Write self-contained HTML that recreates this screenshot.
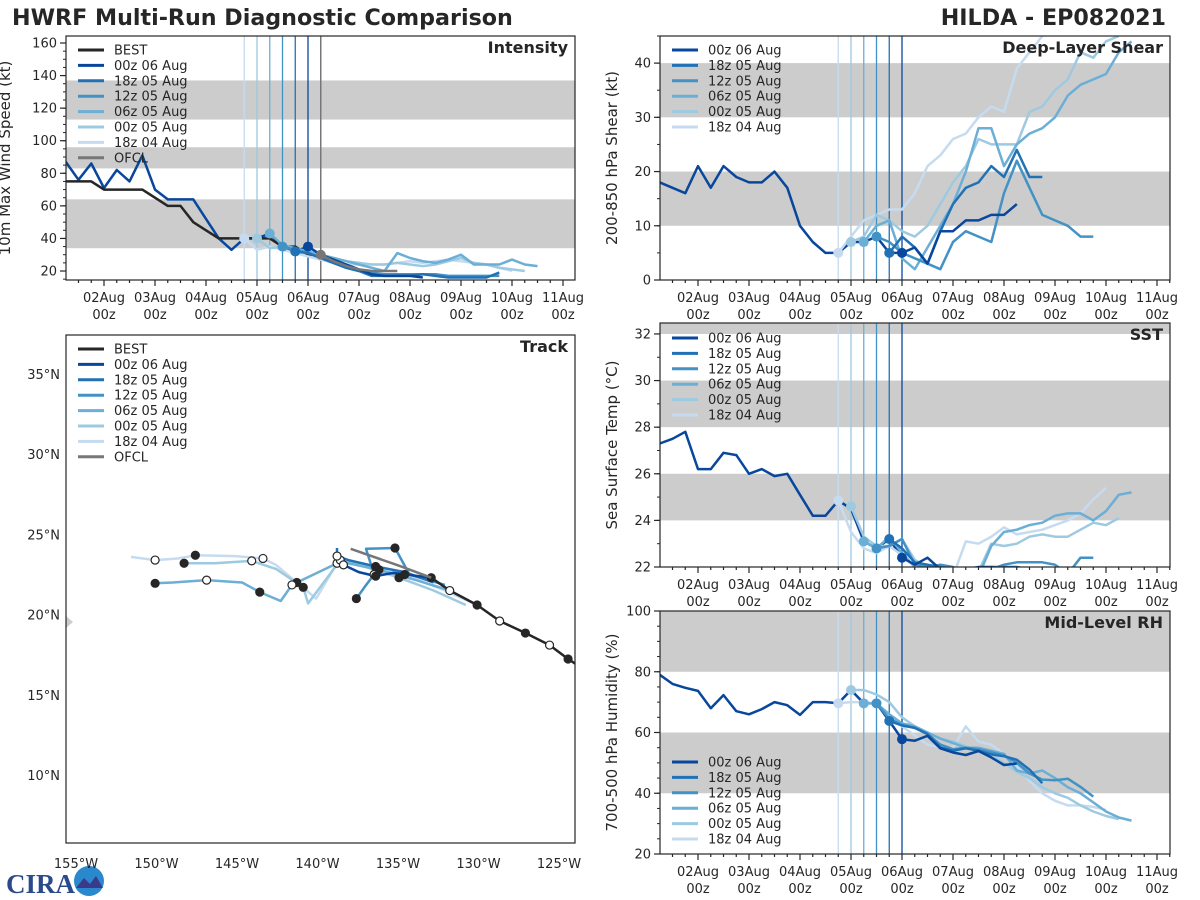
<!DOCTYPE html>
<html><head><meta charset="utf-8"><style>
html,body{margin:0;padding:0;background:#fff}
svg{display:block;font-family:"DejaVu Sans","Liberation Sans",sans-serif}
</style></head><body>
<svg id="s" width="1200" height="900" viewBox="0 0 1200 900" xmlns="http://www.w3.org/2000/svg">
<text x="12" y="25" font-size="22.2" font-weight="bold" fill="#262626">HWRF Multi-Run Diagnostic Comparison</text>
<text x="1166" y="25" font-size="22.2" font-weight="bold" fill="#262626" text-anchor="end">HILDA - EP082021</text>
<g>
<text x="6" y="893" font-size="27" font-weight="bold" fill="#2a4a8a" font-family="Liberation Serif,serif">CIRA</text>
<circle cx="89" cy="881" r="15" fill="#2a88cc"/>
<path d="M76 888 L84 878 L90 884 L96 876 L103 888 Z" fill="#3a3a8a"/>
</g>
<g id="root"></g>
</svg>
<script>
// ---------- DATA ----------
const runLabels = ["00z 06 Aug","18z 05 Aug","12z 05 Aug","06z 05 Aug","00z 05 Aug","18z 04 Aug"];
const runInitHours = [96,90,84,78,72,66];
const histStart = -18;
// intensity (kt)
const intHist = [87,76,86,71,82,75,91,70,64,64,64,52,40,33,40,40,43,35,32,35];
const intBest = [75,75,75,70,70,70,70,65,60,60,50,45,40,40,40,40,40,35,35,30,30];
const intOfcl = [30,26,23,21,20,20,20];
const intOfclStart = 102;
const int00z06 = [35,30,27,24,21,18,17,17,17,16];
const int18z05 = [32,31,28,25,22,20,17,17,17,17,18,17,16,16,16,16,19];
const int12z05 = [35,33,31,28,25,22,20,19,18,18,18,18,18,17,17,17,17,17];
const int06z05 = [43,36,34,32,30,28,26,24,22,20,31,28,26,25,27,30,24,24,24,27,24,23];
const int00z05 = [40,34,35,33,31,30,28,26,25,24,24,25,24,23,24,26,28,25,24,22,21,20];
const int18z04 = [40,33,35,33,31,29,27,25,24,24,24,24,25,26,25,26,27,26,25,24,22,20];
// shear (kt)
const shrHist = [18,17,16,21,17,21,19,18,18,20,17,10,7,5,5,7,7,8,5,5];
const shr00z06 = [5,6,3,9,9,11,11,12,12,14];
const shr18z05 = [5,8,6,3,9,14,17,18,21,19,24,19,19];
const shr12z05 = [8,7,5,4,3,2,7,9,8,7,16,22,17,12,11,10,8,8];
const shr06z05 = [7,10,11,4,2,6,10,14,20,28,28,21,25,27,28,30,34,36,37,38,42,44];
const shr00z05 = [7,8,12,11,9,8,10,14,18,21,26,25,25,25,31,32,35,37,42,41,44,45];
const shr18z04 = [5,8,11,12,13,13,16,21,23,26,27,30,32,31,39,42,45,47];
// SST (C)
const sstHist = [27.3,27.5,27.8,26.2,26.2,26.9,26.8,26.0,26.2,25.9,26.0,25.1,24.2,24.2,24.85,24.5,23.1,22.8,23.2,22.4];
const sst00z06 = [22.4,22.1,22.4,21.9,21.8,21.9,22.0,22.0,21.9,21.8];
const sst18z05 = [23.2,22.8,22.2,22.1,22.0,21.9,21.8,21.8,22.0,22.0,22.0,21.9];
const sst12z05 = [22.8,22.9,23.2,22.1,22.0,22.1,22.0,21.8,21.6,21.9,22.1,22.2,22.2,22.2,22.1,21.7,22.4,22.4];
const sst06z05 = [23.1,22.8,23.3,22.6,22.0,21.8,21.9,21.8,21.7,21.6,22.9,23.5,23.6,23.8,23.9,24.2,24.3,24.3,24.0,24.4,25.1,25.2];
const sst00z05 = [24.6,23.3,22.9,22.9,23.2,22.3,22.0,21.9,21.8,21.8,21.8,23.0,22.9,23.0,23.3,23.4,23.3,23.3,23.6,23.9,23.8,24.1];
const sst18z04 = [24.85,23.5,22.8,22.6,22.9,22.5,22.0,21.8,21.7,21.6,23.1,23.0,23.3,23.7,23.4,23.5,23.6,23.8,24.0,24.3,24.9,25.4];
// RH (%)
const rhHist = [79,76,74.7,73.7,68,72.3,67,66,67.7,70,69,65.8,70,70,69.6,74,69.6,69.6,63.8,57.8];
const rh00z06 = [57.8,57.3,58.9,54.8,53.4,52.6,53.9,51.8,49.3,49.8];
const rh18z05 = [63.8,62.3,61.5,59.5,55.1,54,54.8,54,52.8,52.2,51,47.8,43.3];
const rh12z05 = [69.6,64.5,62.5,61.5,59.5,56,54.5,55,54.5,53.5,52.5,50,46.5,44.5,44.3,44.8,42.1,38.9];
const rh06z05 = [69.6,69.5,66,63,62,60,58,56.5,55,55,54,53,47.5,46.5,47.5,45,42,40,37,34,32,31];
const rh00z05 = [74,74,72.5,70,65,62,60,58,57,55.5,54,52.5,50,47,45,42,40,38.5,36,34,32.5,31.5];
const rh18z04 = [69.6,70,70,69.5,66,62,59,56,55,55,62,57,56,53,49,44,40,37.5,36,36,35.5,34.5];
// track (deg W, deg N), 12-hourly
const trkBestLon = [123.2,124.25,125.4,126.9,128.5,129.9,131.6,132.75];
const trkBestLat = [16.55,17.23,18.1,18.85,19.6,20.6,21.5,22.3];
const trkOfclLon = [132.75,134.75,137.75];
const trkOfclLat = [22.3,23.05,24.1];
const trk00z06Lon = [132.75,135.1,136.2,137.25,138.2];
const trk00z06Lat = [22.3,22.6,22.4,22.65,23.1];
const trk18z05Lon = [132.6,134.4,136.2,137.9,138.6,138.6];
const trk18z05Lat = [22.0,22.65,23.0,23.4,23.65,24.15];
const trk12z05Lon = [131.9,134.1,135.0,136.8,136.3,136.9,137.4];
const trk12z05Lat = [21.85,22.5,24.15,24.1,22.5,21.7,21.0];
const trk06z05Lon = [131.6,133.7,136,138.4,141.4,142.1,143.4,144.5,146.7,148.8,149.9];
const trk06z05Lat = [21.5,22.15,22.8,23.3,21.85,20.85,21.4,22.0,22.15,22.0,21.95];
const trk00z05Lon = [130.6,132.6,134.75,136.6,138.4,140.4,140.7,142.4,143.9,146.2,148.1];
const trk00z05Lat = [20.6,21.5,22.3,22.9,23.4,20.7,21.7,22.85,23.35,23.2,23.2];
const trk18z04Lon = [129.9,131.9,134.4,136.6,138.6,139.9,141.1,142.4,143.2,144.9,147.4,148.5,149.9,151.4];
const trk18z04Lat = [20.6,21.5,22.5,23.1,23.2,21.0,22.0,23.1,23.5,23.65,23.7,23.5,23.4,23.6];
const dayLabels = ["02Aug","03Aug","04Aug","05Aug","06Aug","07Aug","08Aug","09Aug","10Aug","11Aug"];
const lonTicks = [155,150,145,140,135,130,125];
const latTicks = [10,15,20,25,30,35];

// ---------- RENDER ----------
const NS="http://www.w3.org/2000/svg";
const root=document.getElementById('root');
const colors=["#08479c","#2171b5","#4292c6","#6baed6","#9ecae1","#c6dbef"];
function mk(tag,attrs,parent){const e=document.createElementNS(NS,tag);for(const k in attrs)e.setAttribute(k,attrs[k]);(parent||root).appendChild(e);return e;}
function txt(x,y,s,attrs,parent){const t=mk('text',Object.assign({x:x,y:y,'font-size':13,fill:'#262626'},attrs||{}),parent);t.textContent=s;return t;}
let clipN=0;
function panel(name,x0,x1,y0,y1,ymin,ymax,bands,title,ylab,yTicks,minorStep,timeAxis,xoff,ylabOff){
  const g=mk('g',{});
  
  
  const P={x0,x1,y0,y1,g};
  P.sy=v=>y1-(v-ymin)/(ymax-ymin)*(y1-y0);
  P.sx=h=>xoff+h*51/24;
  const id='c'+(clipN++);
  const cp=mk('clipPath',{id:id},g);mk('rect',{x:x0,y:y0,width:x1-x0,height:y1-y0},cp);
  const pg=mk('g',{'clip-path':'url(#'+id+')'},g);P.pg=pg;
  bands.forEach(b=>{const r=mk('rect',{x:x0,y:P.sy(b[1]),width:x1-x0,height:P.sy(b[0])-P.sy(b[1]),fill:'#cccccc'},pg);
    
    });
  for(let v=Math.ceil(ymin/minorStep)*minorStep;v<=ymax+1e-6;v+=minorStep){const y=P.sy(v);mk('line',{x1:x0-3,x2:x0,y1:y,y2:y,stroke:'#262626','stroke-width':1},g);}
  yTicks.forEach(v=>{const y=P.sy(v);mk('line',{x1:x0-6,x2:x0,y1:y,y2:y,stroke:'#262626','stroke-width':1.2},g);
    const t=txt(x0-9,y+4.5,String(v),{'text-anchor':'end'},g);
    
    });
  if(timeAxis){
    for(let h=-18;h<=228;h+=6){const x=P.sx(h);if(x<x0||x>x1)continue;const major=h%24===0;
      mk('line',{x1:x,x2:x,y1:y1,y2:y1+(major?6:3),stroke:'#262626','stroke-width':1.2},g);}
    dayLabels.forEach((d,i)=>{const x=P.sx(i*24);
      const t1=txt(x,y1+22,d,{'text-anchor':'middle'},g);
      
      
      const t2=txt(x,y1+39,'00z',{'text-anchor':'middle'},g);
      
      });
  }
  const tt=txt(x1-7,y0+17,title,{'text-anchor':'end','font-size':16,'font-weight':'bold'},g);
  
  
  if(ylab){const cy=(y0+y1)/2;const lx=x0-ylabOff;const yl=txt(lx,cy,ylab,{'text-anchor':'middle','font-size':15,transform:'rotate(-90 '+lx+' '+cy+')'},g);
    
    }
  return P;
}
function series(P,start,vals,color,w,name){
  const pts=vals.map((v,i)=>P.sx(start+i*6).toFixed(1)+','+P.sy(v).toFixed(1)).join(' ');
  const l=mk('polyline',{points:pts,fill:'none',stroke:color,'stroke-width':w||2.5,'stroke-linejoin':'round'},P.pg);
  
  
  return l;
}
function initLines(P){
  runInitHours.forEach((h,i)=>{const x=P.sx(h);const l=mk('line',{x1:x,x2:x,y1:P.y0,y2:P.y1,stroke:colors[i],'stroke-width':1.3},P.pg);
    
    });
}
function markers(P,runs){
  for(let i=runs.length-1;i>=0;i--){const c=mk('circle',{cx:P.sx(runInitHours[i]),cy:P.sy(runs[i][0]),r:5,fill:colors[i]},P.pg);
    
    }
}
function frame(P){mk('rect',{x:P.x0,y:P.y0,width:P.x1-P.x0,height:P.y1-P.y0,fill:'none',stroke:'#262626','stroke-width':1.2},P.g);}
function legend(P,x,y,entries){
  const lg=mk('g',{},P.g);
  
  
  entries.forEach((e,i)=>{const yy=y+i*15.4;
    mk('line',{x1:x,x2:x+26,y1:yy,y2:yy,stroke:e[1],'stroke-width':3},lg);
    const t=txt(x+36,yy+4.5,e[0],{},lg);
    
    });
}
const runEntries=runLabels.map((l,i)=>[l,colors[i]]);
function runPanel(P,hist,runs){
  initLines(P);
  series(P,histStart,hist,'#08479c',2.5,'history-line');
  for(let i=runs.length-1;i>=0;i--) series(P,runInitHours[i],runs[i],colors[i],2.5,'run-'+runLabels[i].replace(/ /g,'-').toLowerCase());
  markers(P,runs);
}
// Intensity
const PI=panel('intensity',66,575,36,280,14.48,164.3,[[34,64],[83,96],[113,137]],'Intensity','10m Max Wind Speed (kt)',[20,40,60,80,100,120,140,160],5,true,104,56);
initLines(PI);
{const x=PI.sx(intOfclStart);const l=mk('line',{x1:x,x2:x,y1:PI.y0,y2:PI.y1,stroke:'#777','stroke-width':1.5},PI.pg);
 
 }
series(PI,histStart,intHist,'#08479c',2.5,'history-line');
series(PI,histStart,intBest,'#262626',2.5,'best-line');
const intRuns=[int00z06,int18z05,int12z05,int06z05,int00z05,int18z04];
for(let i=5;i>=0;i--) series(PI,runInitHours[i],intRuns[i],colors[i],2.5,'intensity-run');
series(PI,intOfclStart,intOfcl,'#777777',2.5,'ofcl-line');
markers(PI,intRuns);
{const c=mk('circle',{cx:PI.sx(intOfclStart),cy:PI.sy(intOfcl[0]),r:5,fill:'#777'},PI.pg);
 
 }
frame(PI);
legend(PI,78,50,[['BEST','#262626']].concat(runEntries,[['OFCL','#777777']]));
// Shear
const PS=panel('shear',660,1170,36,280,0,45,[[10,20],[30,40]],'Deep-Layer Shear','200-850 hPa Shear (kt)',[0,10,20,30,40],5,true,698,43);
runPanel(PS,shrHist,[shr00z06,shr18z05,shr12z05,shr06z05,shr00z05,shr18z04]);
frame(PS);legend(PS,672,50,runEntries);
// SST
const PT=panel('sst',660,1170,323,567,22,32.47,[[24,26],[28,30],[32,34]],'SST','Sea Surface Temp (°C)',[22,24,26,28,30,32],1,true,698,43);
runPanel(PT,sstHist,[sst00z06,sst18z05,sst12z05,sst06z05,sst00z05,sst18z04]);
frame(PT);legend(PT,672,338,runEntries);
// RH
const PR=panel('rh',660,1170,611,854,20,100,[[40,60],[80,100]],'Mid-Level RH','700-500 hPa Humidity (%)',[20,40,60,80,100],5,true,698,43);
runPanel(PR,rhHist,[rh00z06,rh18z05,rh12z05,rh06z05,rh00z05,rh18z04]);
frame(PR);legend(PR,672,762,runEntries);
// Track
const PK=panel('track',66,575,335,843,5.8,37.4,[],'Track','',[],100,false,0,50);
const lx=lon=>73+(155-lon)*16.1, ly=lat=>374+(35-lat)*16.04;
lonTicks.forEach(l=>{const t=txt(lx(l)+3,868,l+'°W',{'text-anchor':'middle'},PK.g);
  
  });
latTicks.forEach(l=>{const t=txt(60,ly(l)+5,l+'°N',{'text-anchor':'end'},PK.g);
  
  });
function track(lons,lats,color,name,mark){
  const pts=lons.map((l,i)=>lx(l).toFixed(1)+','+ly(lats[i]).toFixed(1)).join(' ');
  const p=mk('polyline',{points:pts,fill:'none',stroke:color,'stroke-width':2.5,'stroke-linejoin':'round'},PK.pg);
  
  
  if(mark) lons.forEach((l,i)=>{if(i===0)return;const c=mk('circle',{cx:lx(l),cy:ly(lats[i]),r:4,fill:i%2?'#262626':'#fff',stroke:'#262626','stroke-width':1.2},PK.pg);
    
    });
}
const tLons=[trk00z06Lon,trk18z05Lon,trk12z05Lon,trk06z05Lon,trk00z05Lon,trk18z04Lon];
const tLats=[trk00z06Lat,trk18z05Lat,trk12z05Lat,trk06z05Lat,trk00z05Lat,trk18z04Lat];
for(let i=5;i>=0;i--) track(tLons[i],tLats[i],colors[i],'track-run',false);
for(let i=5;i>=0;i--) tLons[i].forEach((l,j)=>{if(j===0||j%2)return;const c=mk('circle',{cx:lx(l),cy:ly(tLats[i][j]),r:4,fill:(j/2)%2?'#262626':'#fff',stroke:'#262626','stroke-width':1.2},PK.pg);
  
  });
track(trkBestLon,trkBestLat,'#262626','best-track',true);
track(trkOfclLon,trkOfclLat,'#777777','ofcl-track',false);
mk('path',{d:'M66 616 L73 622 L66 628 Z',fill:'#cccccc'},PK.pg);
frame(PK);
legend(PK,78,349,[['BEST','#262626']].concat(runEntries,[['OFCL','#777777']]));
</script>
</body></html>
